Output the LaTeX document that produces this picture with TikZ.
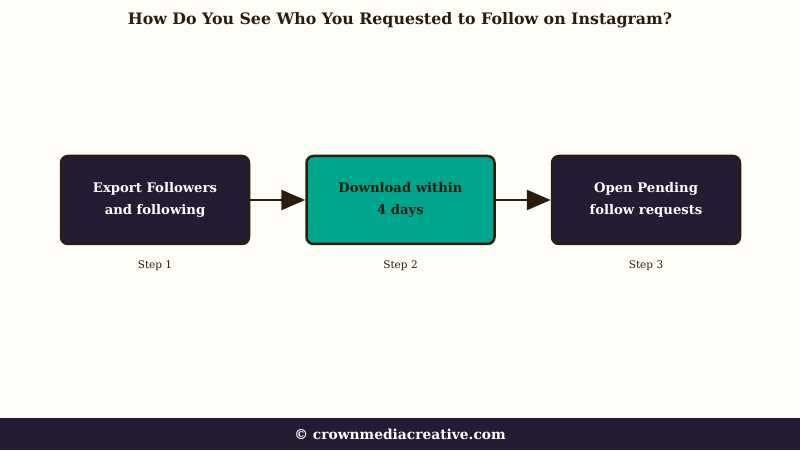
\documentclass[tikz,border=0pt]{standalone}
\usepackage{fontspec}
\setmainfont{DejaVu Serif}
\usetikzlibrary{positioning,arrows.meta}
\definecolor{pagebg}{HTML}{FFFDF8}
\definecolor{inkbrown}{HTML}{2B1D0E}
\definecolor{navybox}{HTML}{241C35}
\definecolor{tealbox}{HTML}{00A58E}
\begin{document}
\begin{tikzpicture}[x=1pt, y=1pt,
	stepbox/.style={draw=inkbrown, line width=2.5pt, rounded corners=7pt, minimum width=188pt, minimum height=88pt, align=center, font=\bfseries\fontsize{13.2}{22}\selectfont},
	darkbox/.style={stepbox, fill=navybox, text=white},
	greenbox/.style={stepbox, fill=tealbox, text=inkbrown},
	steplabel/.style={font=\fontsize{10.5}{12}\selectfont, text=inkbrown},
	flow/.style={draw=inkbrown, line width=2.5pt, -{Triangle[length=24pt, width=20pt]}}]
	\useasboundingbox (0,0) rectangle (800,450);
	\fill[pagebg] (0,0) rectangle (800,450);
	\fill[navybox] (0,0) rectangle (800,32);
	\node[font=\bfseries\fontsize{15.8}{18}\selectfont, text=inkbrown] (title) at (400,430) {How Do You See Who You Requested to Follow on Instagram?};
	\node[darkbox] (export) at (155,250) {Export Followers\\and following};
	\node[greenbox, right=55pt of export] (download) {Download within\\4 days};
	\node[darkbox, right=55pt of download] (pending) {Open Pending\\follow requests};
	\draw[flow] (export) -- (download);
	\draw[flow] (download) -- (pending);
	\node[steplabel, below=12pt of export] (s1) {Step 1};
	\node[steplabel, below=12pt of download] (s2) {Step 2};
	\node[steplabel, below=12pt of pending] (s3) {Step 3};
	\node[font=\bfseries\fontsize{13.8}{16}\selectfont, text=white] (credit) at (400,16) {© crownmediacreative.com};
\end{tikzpicture}
\end{document}
